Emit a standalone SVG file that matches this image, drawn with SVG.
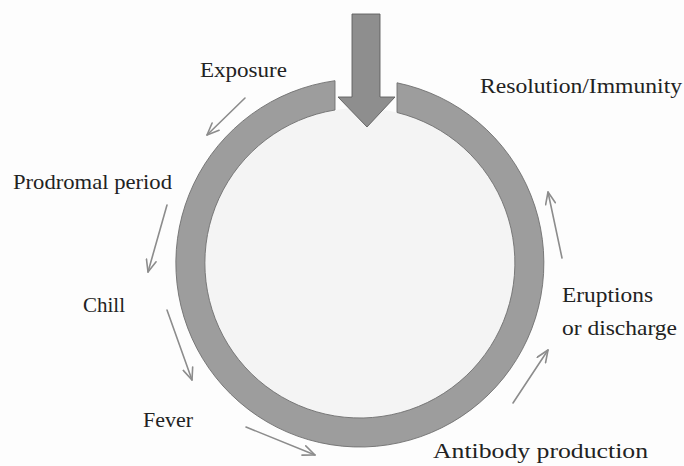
<svg xmlns="http://www.w3.org/2000/svg" width="684" height="466" viewBox="0 0 684 466">
<defs>
<style>
.lbl{font-family:"Liberation Serif","Times New Roman",serif;font-size:21px;fill:#222;}
.con{fill:none;stroke:#8c8c8c;stroke-width:1.6;stroke-linecap:round;stroke-linejoin:round;}
</style>
<marker id="ah" viewBox="0 0 14 12" refX="13" refY="6" markerWidth="14" markerHeight="12" markerUnits="userSpaceOnUse" orient="auto">
<path d="M1 1 L13 6 L1 11" fill="none" stroke="#8c8c8c" stroke-width="1.6" stroke-linecap="round" stroke-linejoin="round"/>
</marker>
</defs>
<rect width="684" height="466" fill="#fdfdfd"/>
<g id="cycle">
<circle cx="360" cy="263" r="155" fill="#f4f4f4"/>
<path d="M335 80.7 A184 184 0 1 0 397 82.8 L397 112.5 A155 155 0 1 1 335 110 Z" fill="#9d9d9d" stroke="#6f6f6f" stroke-width="0.9"/>
</g>
<g id="entry-arrow">
<path d="M352 14 L380 14 L380 97 L395 97 L367 127 L338 97 L352 97 Z" fill="#8e8e8e" stroke="#5e5e5e" stroke-width="0.9"/>
</g>
<g id="exposure"><text class="lbl" x="200" y="77" textLength="87" lengthAdjust="spacingAndGlyphs">Exposure</text></g>
<g id="resolution"><text class="lbl" x="480" y="93" textLength="202" lengthAdjust="spacingAndGlyphs">Resolution/Immunity</text></g>
<g id="prodromal"><text class="lbl" x="13" y="189" textLength="159" lengthAdjust="spacingAndGlyphs">Prodromal period</text></g>
<g id="chill"><text class="lbl" x="83" y="312" textLength="42" lengthAdjust="spacingAndGlyphs">Chill</text></g>
<g id="fever"><text class="lbl" x="143" y="427" textLength="50" lengthAdjust="spacingAndGlyphs">Fever</text></g>
<g id="eruptions"><text class="lbl" x="562" y="302" textLength="91" lengthAdjust="spacingAndGlyphs">Eruptions</text><text class="lbl" x="562" y="335" textLength="115" lengthAdjust="spacingAndGlyphs">or discharge</text></g>
<g id="antibody"><text class="lbl" x="433" y="458" textLength="215" lengthAdjust="spacingAndGlyphs">Antibody production</text></g>
<g id="connectors">
<line class="con" x1="245" y1="98" x2="207" y2="135" marker-end="url(#ah)"/>
<line class="con" x1="167" y1="205" x2="148" y2="272" marker-end="url(#ah)"/>
<line class="con" x1="167" y1="310" x2="192" y2="380" marker-end="url(#ah)"/>
<line class="con" x1="246" y1="427" x2="315" y2="455" marker-end="url(#ah)"/>
<line class="con" x1="513" y1="403" x2="548" y2="350" marker-end="url(#ah)"/>
<line class="con" x1="562" y1="258" x2="548" y2="192" marker-end="url(#ah)"/>
</g>
</svg>
